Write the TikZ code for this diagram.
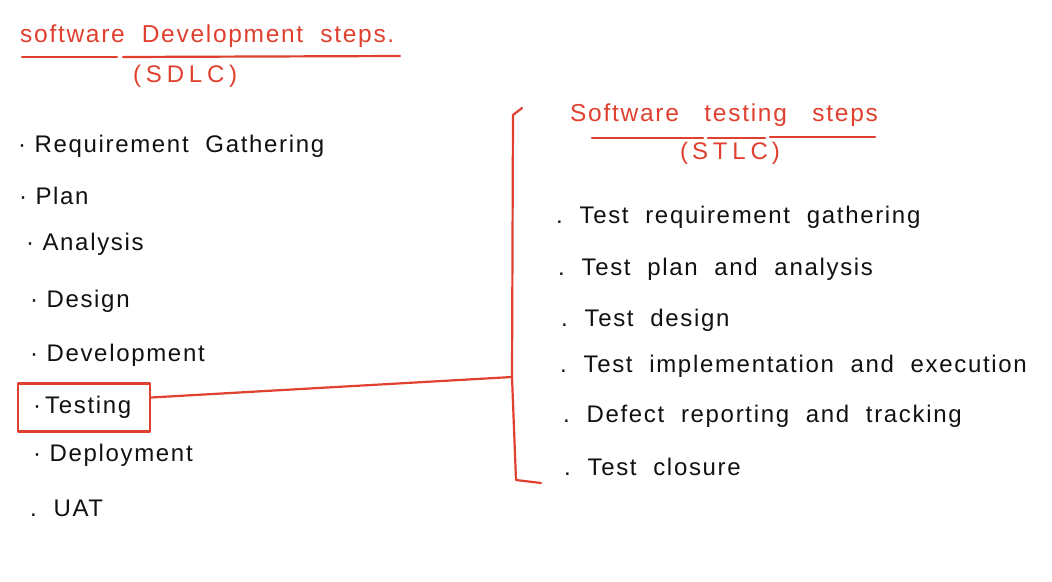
\documentclass[tikz,border=0pt]{standalone}
\usepackage{fontspec}
\setmainfont{Liberation Sans}
\newfontfamily\hand[LetterSpace=7]{Liberation Sans}
\newfontfamily\handwide[LetterSpace=20]{Liberation Sans}
\definecolor{pen}{HTML}{E0402F}
\definecolor{ink}{HTML}{111111}
\begin{document}
\begin{tikzpicture}[x=1pt,y=-1pt,
  item/.style={anchor=west,inner sep=0pt,text=ink,font=\hand\fontsize{24}{28}\selectfont},
  ttl/.style={anchor=west,inner sep=0pt,text=pen,font=\hand\fontsize{24.5}{28}\selectfont},
  ttlwide/.style={anchor=west,inner sep=0pt,text=pen,font=\handwide\fontsize{24}{28}\selectfont},
  redline/.style={draw=pen,line width=2.2pt,line cap=round,line join=round}]
\useasboundingbox[fill=white] (0,0) rectangle (1052,581);
% left title
\node[ttl] (t1) at (20,36) {software\ \ Development\ \ steps.};
\draw[redline] (22,57) -- (117,57);
\draw[redline] (123,57) -- (400,56);
\node[ttlwide] (t1b) at (133,76) {(SDLC)};
% left list
\node[item] (l1) at (18,146) {·\ Requirement\ \ Gathering};
\node[item] (l2) at (19,196) {·\ Plan};
\node[item] (l3) at (26,244) {·\ Analysis};
\node[item] (l4) at (30,301) {·\ Design};
\node[item] (l5) at (30,355) {·\ Development};
\node[item] (l6) at (33,407) {·\,Testing};
\node[item] (l7) at (33,455) {·\ Deployment};
\node[item] (l8) at (30,508) {.\ \ UAT};
% testing box
\node[redline,rectangle,minimum width=132pt,minimum height=48pt,inner sep=0pt] (box) at (84,407.5) {};
% bracket
\coordinate (bt) at (522,108);
\coordinate (bj) at (512,377);
\coordinate (bb) at (541,483);
\draw[redline] (bt) -- (513,115) -- (bj) -- (516,480) -- (bb);
\draw[redline] (box.east) ++(0,-10) -- (bj);
% right title
\node[ttl] (t2) at (570,115) {Software\ \ \ testing\ \ \ steps};
\draw[redline] (592,138) -- (703,138);
\draw[redline] (708,138) -- (765,138);
\draw[redline] (770,137) -- (875,137);
\node[ttlwide] (t2b) at (680,153) {(\,STLC\,)};
% right list
\node[item] (r1) at (556,217) {.\ \ Test\ \ requirement\ \ gathering};
\node[item] (r2) at (558,269) {.\ \ Test\ \ plan\ \ and\ \ analysis};
\node[item] (r3) at (561,320) {.\ \ Test\ \ design};
\node[item] (r4) at (560,366) {.\ \ Test\ \ implementation\ \ and\ \ execution};
\node[item] (r5) at (563,416) {.\ \ Defect\ \ reporting\ \ and\ \ tracking};
\node[item] (r6) at (564,467) {.\ \ Test\ \ closure};
\end{tikzpicture}
\end{document}
